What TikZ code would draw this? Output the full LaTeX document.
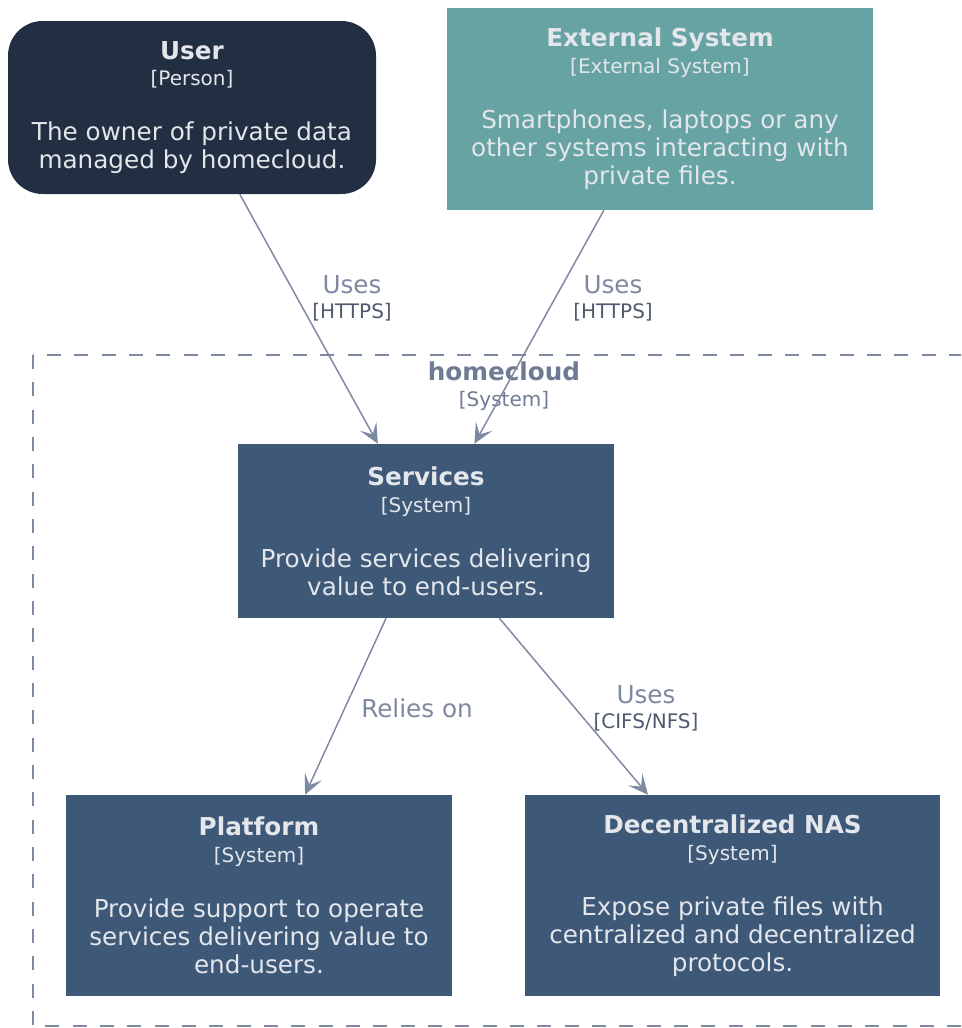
\documentclass[tikz,border=0pt]{standalone}
\usepackage{fontspec}
\setmainfont{DejaVu Sans}
\usetikzlibrary{arrows.meta}

\definecolor{personfill}{HTML}{222E41}
\definecolor{extfill}{HTML}{66A3A2}
\definecolor{sysfill}{HTML}{3E5878}
\definecolor{boxtext}{HTML}{E3E6EA}
\definecolor{relline}{HTML}{7D89A1}
\definecolor{reltech}{HTML}{4F5A6E}
\definecolor{bndline}{HTML}{7E8AA1}
\definecolor{bndtext}{HTML}{6E7B93}

\newcommand{\ttl}[1]{{\bfseries #1}}
\newcommand{\stereo}[1]{{\fontsize{15}{18}\selectfont #1}}

\tikzset{
  c4box/.style={inner sep=0pt, align=center, text=boxtext,
    font=\fontsize{18.5}{21}\selectfont},
  personbox/.style={c4box, fill=personfill, rounded corners=26pt},
  extbox/.style={c4box, fill=extfill},
  sysbox/.style={c4box, fill=sysfill},
  rel/.style={draw=relline, line width=1.1pt,
    -{Stealth[length=15pt, width=14pt, inset=7pt]}},
  rellabel/.style={align=center, text=relline, inner sep=0pt,
    font=\fontsize{18.5}{18.75}\selectfont},
  boundary/.style={draw=bndline, line width=1.1pt, dash pattern=on 10.5pt off 10pt},
}

\begin{document}
\begin{tikzpicture}[x=0.75pt, y=-0.75pt]
  \useasboundingbox (0,0) rectangle (961,1028);
  \clip (0,0) rectangle (961,1028);

  % system boundary
  \draw[boundary] (33,355) rectangle (975,1026);
  \node[align=center, text=bndtext, inner sep=0pt,
        font=\fontsize{18.5}{19.5}\selectfont] (bnd) at (504,386)
    {\ttl{homecloud}\\\stereo{[System]}};

  % elements (sizes in pt: 1 unit = 0.75pt)
  \node[personbox, minimum width=276pt, minimum height=129.75pt] (usr) at (192,107.5)
    {\ttl{User}\\[-1pt]\stereo{[Person]}\\[20.25pt]The owner of private data\\managed by homecloud.};
  \node[extbox, minimum width=319.5pt, minimum height=151.5pt] (ext) at (660,109)
    {\ttl{External System}\\[-1pt]\stereo{[External System]}\\[20.25pt]Smartphones, laptops or any\\other systems interacting with\\private files.};
  \node[sysbox, minimum width=282pt, minimum height=130.5pt] (svc) at (426,531)
    {\ttl{Services}\\[-1pt]\stereo{[System]}\\[20.25pt]Provide services delivering\\value to end-users.};
  \node[sysbox, minimum width=289.5pt, minimum height=150.75pt] (plat) at (259,895.5)
    {\ttl{Platform}\\[-1pt]\stereo{[System]}\\[20.25pt]Provide support to operate\\services delivering value to\\end-users.};
  \node[sysbox, minimum width=311.25pt, minimum height=150.75pt] (nas) at (732.5,895.5)
    {\ttl{Decentralized NAS}\\[-1pt]\stereo{[System]}\\[20.25pt]Expose private files with\\centralized and decentralized\\protocols.};

  % relations
  \draw[rel] (usr) -- (svc);
  \draw[rel] (ext) -- (svc);
  \draw[rel] (svc) -- (plat);
  \draw[rel] (svc) -- (nas);

  \node[rellabel] (l-usr) at (352,298)
    {Uses\\\stereo{\color{reltech}[HTTPS]}};
  \node[rellabel] (l-ext) at (613,298)
    {Uses\\\stereo{\color{reltech}[HTTPS]}};
  \node[rellabel] (l-plat) at (417,708) {Relies on};
  \node[rellabel] (l-nas) at (646,708)
    {Uses\\\stereo{\color{reltech}[CIFS/NFS]}};
\end{tikzpicture}
\end{document}
